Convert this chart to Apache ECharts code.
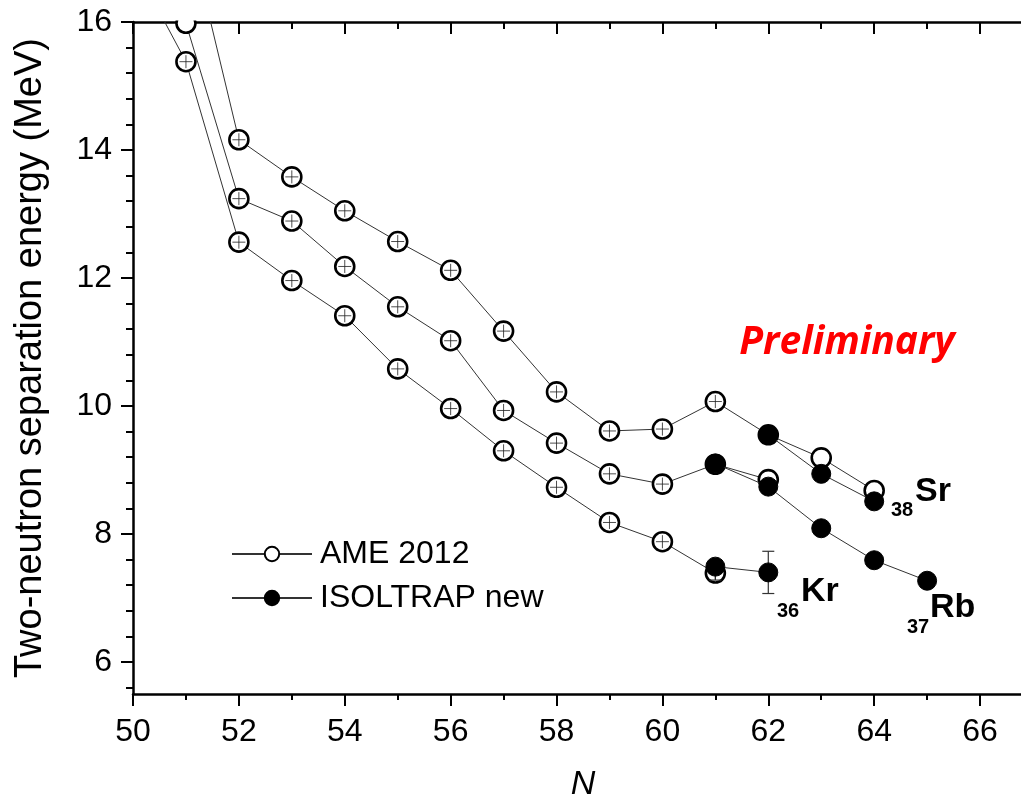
<!DOCTYPE html>
<html>
<head>
<meta charset="utf-8">
<script src="https://cdn.jsdelivr.net/npm/echarts@6/dist/echarts.min.js"></script>
<style>
  html, body { margin: 0; padding: 0; background: #fff; }
  #chart { width: 1021px; height: 809px; }
</style>
</head>
<body>
<div id="chart"></div>
<script>
// neutron number N and two-neutron separation energy (MeV)
const krAmeN = [50, 51, 52, 53, 54, 55, 56, 57, 58, 59, 60, 61];
const krAme = [16.93, 15.38, 12.56, 11.96, 11.41, 10.58, 9.96, 9.30, 8.73, 8.18, 7.88, 7.39];
const rbAmeN = [51, 52, 53, 54, 55, 56, 57, 58, 59, 60, 61, 62];
const rbAme = [15.98, 13.24, 12.89, 12.18, 11.55, 11.02, 9.93, 9.42, 8.94, 8.78, 9.09, 8.85];
const srAmeN = [51, 52, 53, 54, 55, 56, 57, 58, 59, 60, 61, 62, 63, 64];
const srAme = [17.61, 14.16, 13.58, 13.05, 12.57, 12.12, 11.17, 10.22, 9.61, 9.64, 10.07, 9.55, 9.19, 8.68];

const krNewN = [61, 62];
const krNew = [7.49, 7.40];
const rbNewN = [61, 62, 63, 64, 65];
const rbNew = [9.10, 8.74, 8.09, 7.59, 7.27];
const srNewN = [62, 63, 64];
const srNew = [9.55, 8.94, 8.51];

// error bars [N, low, high]
const ameErr = [[61, 7.28, 7.50]];
const newErr = [[62, 7.07, 7.73]];

const xTicks = [50, 52, 54, 56, 58, 60, 62, 64, 66];
const yTicks = [6, 8, 10, 12, 14, 16];

const font = '"Liberation Sans", Arial, sans-serif';

function pairs(ns, vs) {
  return ns.map((n, i) => [n, vs[i]]);
}

// small crosses inside the AME circles (not where the new points sit)
const crossData = [].concat(pairs(krAmeN, krAme), pairs(rbAmeN, rbAme), pairs(srAmeN, srAme))
  .filter(p => p[0] < 62 && p[1] < 15.9);

function renderErr(params, api) {
  const lo = api.coord([api.value(0), api.value(1)]);
  const hi = api.coord([api.value(0), api.value(2)]);
  const w = 6;
  const st = { stroke: '#333', lineWidth: 1.2 };
  return {
    type: 'group',
    children: [
      { type: 'line', shape: { x1: lo[0], y1: lo[1], x2: hi[0], y2: hi[1] }, style: st },
      { type: 'line', shape: { x1: lo[0] - w, y1: lo[1], x2: lo[0] + w, y2: lo[1] }, style: st },
      { type: 'line', shape: { x1: hi[0] - w, y1: hi[1], x2: hi[0] + w, y2: hi[1] }, style: st }
    ]
  };
}

const axisLine = { show: true, onZero: false, lineStyle: { color: '#000', width: 2.5 } };
const tickStyle = { color: '#000', width: 2 };

function ameSeries(ns, vs) {
  return {
    name: 'AME 2012', type: 'line', data: pairs(ns, vs), z: 3,
    symbol: 'circle', symbolSize: 19, showSymbol: true,
    lineStyle: { color: '#333', width: 1 },
    itemStyle: { color: '#fff', borderColor: '#000', borderWidth: 2.6 },
    emphasis: { disabled: true }
  };
}

function newSeries(ns, vs) {
  return {
    name: 'ISOLTRAP new', type: 'line', data: pairs(ns, vs), z: 6,
    symbol: 'circle', symbolSize: 19, showSymbol: true,
    lineStyle: { color: '#333', width: 1 },
    itemStyle: { color: '#000', borderColor: '#000', borderWidth: 1 },
    emphasis: { disabled: true }
  };
}

const chart = echarts.init(document.getElementById('chart'));
chart.setOption({
  animation: false,
  backgroundColor: '#fff',
  grid: { left: 133, right: -12, top: 22, bottom: 115, outerBoundsMode: 'none' },
  legend: {
    data: ['AME 2012', 'ISOLTRAP new'],
    orient: 'vertical', left: 226, top: 533,
    itemWidth: 80, itemHeight: 18, itemGap: 12,
    selectedMode: false,
    textStyle: { fontSize: 32, color: '#000', fontFamily: font, padding: [0, 0, 0, 3] }
  },
  xAxis: [{
    type: 'value', position: 'bottom', min: 50, max: 67, interval: 2,
    axisLine: axisLine,
    axisTick: { show: true, length: 12, lineStyle: tickStyle, customValues: xTicks },
    minorTick: { show: true, splitNumber: 2, length: 6, lineStyle: tickStyle },
    splitLine: { show: false },
    axisLabel: { customValues: xTicks, margin: 22, fontSize: 32, color: '#000', fontFamily: font },
    name: 'N', nameLocation: 'middle', nameGap: 74,
    nameTextStyle: { fontStyle: 'italic', fontSize: 34, color: '#000', fontFamily: font }
  }, {
    type: 'value', position: 'top', min: 50, max: 67, interval: 2,
    axisLine: axisLine,
    axisTick: { show: true, inside: true, length: 12, lineStyle: tickStyle, customValues: xTicks },
    minorTick: { show: true, splitNumber: 2, length: 7, lineStyle: tickStyle },
    splitLine: { show: false },
    axisLabel: { show: false }
  }],
  yAxis: [{
    type: 'value', position: 'left', min: 5.5, max: 16, splitNumber: 5,
    axisLine: axisLine,
    axisTick: { show: true, length: 12, lineStyle: tickStyle, customValues: yTicks },
    minorTick: { show: true, splitNumber: 5, length: 7, lineStyle: tickStyle },
    splitLine: { show: false },
    axisLabel: { customValues: yTicks, margin: 21, fontSize: 32, color: '#000', fontFamily: font },
    name: 'Two-neutron separation energy (MeV)', nameLocation: 'middle', nameGap: 83,
    nameTextStyle: { fontSize: 38, color: '#000', fontFamily: font }
  }, {
    type: 'value', position: 'right', min: 5.5, max: 16, splitNumber: 5,
    axisLine: axisLine,
    axisTick: { show: true, inside: true, length: 12, lineStyle: tickStyle, customValues: yTicks },
    minorTick: { show: true, splitNumber: 5, length: 7, lineStyle: tickStyle },
    splitLine: { show: false },
    axisLabel: { show: false }
  }],
  series: [
    ameSeries(krAmeN, krAme),
    ameSeries(rbAmeN, rbAme),
    ameSeries(srAmeN, srAme),
    {
      name: 'cross', type: 'scatter', data: crossData, z: 4,
      symbol: 'path://M-1,0 L1,0 M0,-1 L0,1', symbolSize: 13,
      itemStyle: { color: 'rgba(0,0,0,0)', borderColor: '#222', borderWidth: 1 },
      emphasis: { disabled: true }, silent: true
    },
    { name: 'ameErr', type: 'custom', data: ameErr, z: 4, encode: { x: 0, y: [1, 2] }, renderItem: renderErr, silent: true },
    { name: 'newErr', type: 'custom', data: newErr, z: 5, encode: { x: 0, y: [1, 2] }, renderItem: renderErr, silent: true },
    newSeries(krNewN, krNew),
    newSeries(rbNewN, rbNew),
    newSeries(srNewN, srNew)
  ],
  graphic: [
    { type: 'rect', shape: { x: 134, y: 0, width: 900, height: 20.5 }, style: { fill: '#fff' }, z: 100, silent: true },
    { type: 'text', x: 847, y: 343, style: { text: 'Preliminary', fill: '#ff0000', font: 'italic bold 39px "Open Sans"', align: 'center', verticalAlign: 'middle' } },
    { type: 'text', x: 915, y: 492, style: { text: 'Sr', fill: '#000', font: 'bold 34px "Liberation Sans"', align: 'left', verticalAlign: 'middle' } },
    { type: 'text', x: 891, y: 510, style: { text: '38', fill: '#000', font: 'bold 20px "Liberation Sans"', align: 'left', verticalAlign: 'middle' } },
    { type: 'text', x: 801, y: 592, style: { text: 'Kr', fill: '#000', font: 'bold 34px "Liberation Sans"', align: 'left', verticalAlign: 'middle' } },
    { type: 'text', x: 777, y: 611, style: { text: '36', fill: '#000', font: 'bold 20px "Liberation Sans"', align: 'left', verticalAlign: 'middle' } },
    { type: 'text', x: 930, y: 608, style: { text: 'Rb', fill: '#000', font: 'bold 34px "Liberation Sans"', align: 'left', verticalAlign: 'middle' } },
    { type: 'text', x: 907, y: 627, style: { text: '37', fill: '#000', font: 'bold 20px "Liberation Sans"', align: 'left', verticalAlign: 'middle' } }
  ]
});
</script>
</body>
</html>
